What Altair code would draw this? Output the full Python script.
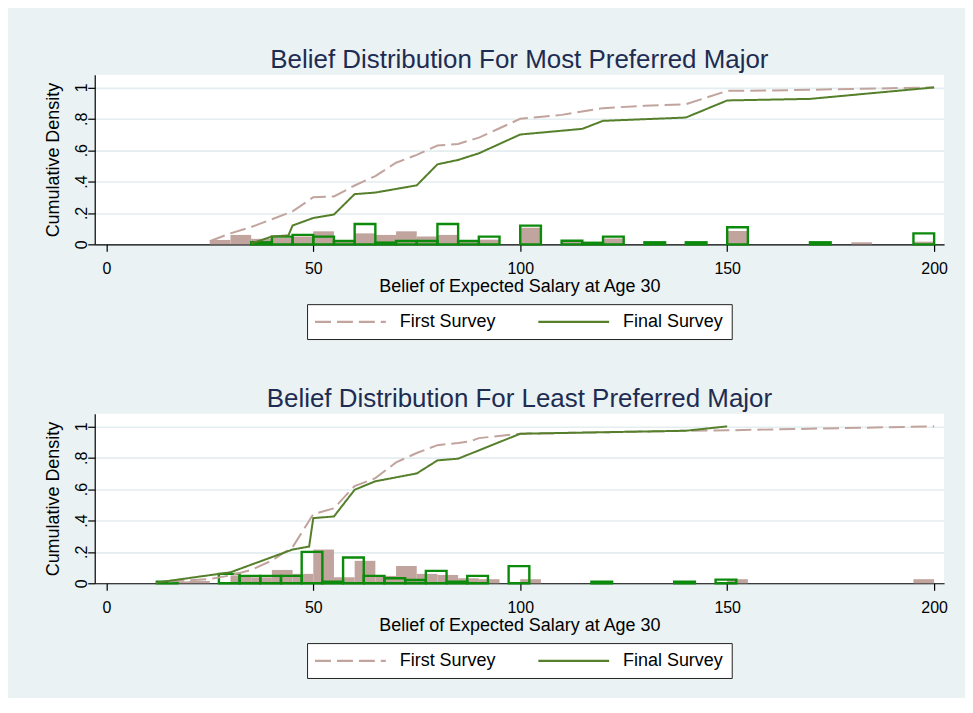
import altair as alt
import pandas as pd

# ---------------- data ----------------
SERIES = ["First Survey", "Final Survey"]
X_TICKS = [0, 50, 100, 150, 200]
Y_TICKS = [0, 0.2, 0.4, 0.6, 0.8, 1]
BIN_WIDTH = 5

# Most preferred major: cumulative curves
most_first_x = [25, 30, 35, 40, 45, 50, 55, 60, 65, 70, 75, 80, 85, 90, 95, 100,
                110, 120, 130, 140, 150, 160, 170, 180, 200]
most_first_y = [0.02, 0.07, 0.11, 0.16, 0.21, 0.30, 0.305, 0.375, 0.435, 0.52, 0.57,
                0.63, 0.64, 0.68, 0.74, 0.80, 0.825, 0.868, 0.883, 0.893, 0.978,
                0.98, 0.985, 0.99, 1.0]
most_final_x = [35, 40, 44, 45, 50, 55, 60, 65, 75, 80, 85, 90, 100, 115, 120, 140,
                150, 170, 200]
most_final_y = [0.005, 0.05, 0.057, 0.12, 0.168, 0.19, 0.32, 0.33, 0.376, 0.51, 0.538,
                0.58, 0.70, 0.736, 0.787, 0.808, 0.917, 0.927, 1.0]
# Most preferred major: histogram fractions (bins of width 5)
most_first_start = 25
most_first_hist = [0.028, 0.06, 0.035, 0.04, 0.05, 0.083, 0.02, 0.07, 0.06, 0.083,
                   0.05, 0.06, 0.025, 0.03, 0, 0.106, 0, 0.017, 0, 0.038, 0, 0.01,
                   0, 0.01, 0, 0.085, 0, 0, 0, 0, 0, 0.013, 0, 0, 0.017]
most_final_start = 35
most_final_hist = [0.013, 0.049, 0.06, 0.049, 0.021, 0.13, 0.011, 0.021, 0.021, 0.13,
                   0.021, 0.049, 0, 0.119, 0, 0.023, 0.01, 0.049, 0, 0.013, 0, 0.013,
                   0, 0.109, 0, 0, 0, 0.013, 0, 0, 0, 0, 0.07]

# Least preferred major: cumulative curves
least_first_x = [15, 25, 30, 35, 40, 45, 50, 55, 60, 65, 70, 75, 80, 85, 88, 90, 100,
                 140, 150, 200]
least_first_y = [0.012, 0.027, 0.05, 0.085, 0.145, 0.23, 0.44, 0.478, 0.62, 0.67, 0.77,
                 0.83, 0.88, 0.894, 0.905, 0.925, 0.953, 0.972, 0.975, 1.0]
least_final_x = [12, 30, 45, 49, 50, 55, 60, 65, 75, 80, 85, 100, 140, 150]
least_final_y = [0.004, 0.07, 0.215, 0.234, 0.415, 0.426, 0.596, 0.65, 0.70, 0.783,
                 0.794, 0.953, 0.972, 1.0]
# Least preferred major: histogram fractions (bins of width 5)
least_first_start = 15
least_first_hist = [0.012, 0.015, 0, 0.05, 0.038, 0.085, 0.06, 0.215, 0.038, 0.143,
                    0.047, 0.11, 0.06, 0.053, 0.032, 0.026, 0, 0.026, 0, 0, 0, 0, 0,
                    0, 0, 0, 0, 0.026, 0, 0, 0, 0, 0, 0, 0, 0, 0.026]
least_final_start = 12.2
least_final_hist = [0.01, 0, 0, 0.06, 0.047, 0.047, 0.047, 0.2, 0.01, 0.164, 0.047,
                    0.032, 0.021, 0.079, 0.01, 0.047, 0, 0.109, 0, 0, 0, 0.01, 0, 0,
                    0, 0.01, 0, 0.023]

# ---------------- style ----------------
FONT = "Liberation Sans"
BG = "#EAF2F3"
GRID = "#E4EDEF"
FIRST_COLOR = "#C1A49D"
FINAL_LINE = "#557F2B"
FINAL_BAR = "#0B8A0B"
TITLE_COLOR = "#1E2C52"
# long legend stroke: unit path scaled by sqrt(symbolSize)/2 = 8 px
LEGEND_STROKE = "M-1.19,0H7.69"


def hist_frame(start, heights):
    rows = []
    for i, h in enumerate(heights):
        if h > 0:
            rows.append({"x0": start + i * BIN_WIDTH,
                         "x1": start + (i + 1) * BIN_WIDTH, "h": h})
    return pd.DataFrame(rows)


def panel(title, fx, fy, gx, gy, f_start, f_hist, g_start, g_hist):
    lines = pd.DataFrame(
        [{"series": SERIES[0], "x": a, "y": b} for a, b in zip(fx, fy)]
        + [{"series": SERIES[1], "x": a, "y": b} for a, b in zip(gx, gy)]
    )
    first_bars = hist_frame(f_start, f_hist)
    final_bars = hist_frame(g_start, g_hist)

    xs = alt.Scale(domain=[-2.8, 202.4], nice=False, zero=False)
    ys = alt.Scale(domain=[0, 1.08], nice=False, zero=False)
    xaxis = alt.Axis(values=X_TICKS, title="Belief of Expected Salary at Age 30",
                     grid=False, domainColor="black", domainWidth=1.2,
                     tickColor="black", tickSize=7, tickWidth=1.2,
                     labelFontSize=16, labelFont=FONT, labelColor="black",
                     labelPadding=9, titleFont=FONT, titleFontSize=18,
                     titleFontWeight="normal", titleColor="black", titlePadding=1,
                     labelFlush=False)
    yaxis = alt.Axis(values=Y_TICKS, title="Cumulative Density", grid=True,
                     gridColor=GRID, gridWidth=1.6, domainColor="black",
                     domainWidth=1.2, tickColor="black", tickSize=7, tickWidth=1.2,
                     labelFontSize=16, labelFont=FONT, labelColor="black",
                     labelAngle=270, labelAlign="center", labelBaseline="alphabetic",
                     labelPadding=1,
                     labelExpr="datum.value == 0 ? '0' : (datum.value == 1 ? '1' : '.' + round(datum.value * 10))",
                     titleFont=FONT, titleFontSize=18, titleFontWeight="normal",
                     titleColor="black", titlePadding=11, labelFlush=False)

    base_first = alt.Chart(first_bars).mark_rect(color=FIRST_COLOR).encode(
        x=alt.X("x0:Q", scale=xs, axis=xaxis),
        x2="x1:Q",
        y=alt.Y("h:Q", scale=ys, axis=yaxis),
        y2=alt.datum(0),
    )
    base_final = alt.Chart(final_bars).mark_rect(
        fill="white", fillOpacity=0, stroke=FINAL_BAR, strokeWidth=2.4
    ).encode(
        x=alt.X("x0:Q", scale=xs, axis=xaxis),
        x2="x1:Q",
        y=alt.Y("h:Q", scale=ys, axis=yaxis),
        y2=alt.datum(0),
    )
    leg = alt.Legend(
        title=None, orient="none", legendX=213, legendY=230, direction="horizontal",
        fillColor="white", strokeColor="#222222", padding=8,
        symbolType=LEGEND_STROKE, symbolSize=256, symbolStrokeWidth=2.2,
        labelFontSize=18, labelFont=FONT, labelColor="black", labelOffset=66,
        columnPadding=37, labelLimit=300,
    )
    line = alt.Chart(lines).mark_line(strokeWidth=2).encode(
        x=alt.X("x:Q", scale=xs, axis=xaxis),
        y=alt.Y("y:Q", scale=ys, axis=yaxis),
        color=alt.Color("series:N", scale=alt.Scale(domain=SERIES,
                        range=[FIRST_COLOR, FINAL_LINE]), legend=leg),
        strokeDash=alt.StrokeDash("series:N", scale=alt.Scale(domain=SERIES,
                                  range=[[16, 6], [1, 0]]), legend=leg),
        strokeWidth=alt.StrokeWidth("series:N", scale=alt.Scale(domain=SERIES,
                                    range=[2.8, 1.6]), legend=None),
    )
    return alt.layer(base_first, base_final, line).properties(
        width=852, height=170,
        title=alt.TitleParams(title, font=FONT, fontSize=26, fontWeight="normal",
                              color=TITLE_COLOR, anchor="middle", frame="group",
                              baseline="alphabetic", offset=-19),
    )


top = panel("Belief Distribution For Most Preferred Major",
            most_first_x, most_first_y, most_final_x, most_final_y,
            most_first_start, most_first_hist, most_final_start, most_final_hist)
bottom = panel("Belief Distribution For Least Preferred Major",
               least_first_x, least_first_y, least_final_x, least_final_y,
               least_first_start, least_first_hist, least_final_start, least_final_hist)

chart = alt.vconcat(top, bottom, spacing=46).resolve_scale(
    color="independent", strokeDash="independent"
).resolve_legend(color="independent", strokeDash="independent").properties(
    background=BG,
    padding={"left": 37, "top": 38, "right": 17, "bottom": 18},
).configure_view(fill="white", strokeWidth=0)

chart.save("out.html", embed_options={"renderer": "svg", "actions": False})
